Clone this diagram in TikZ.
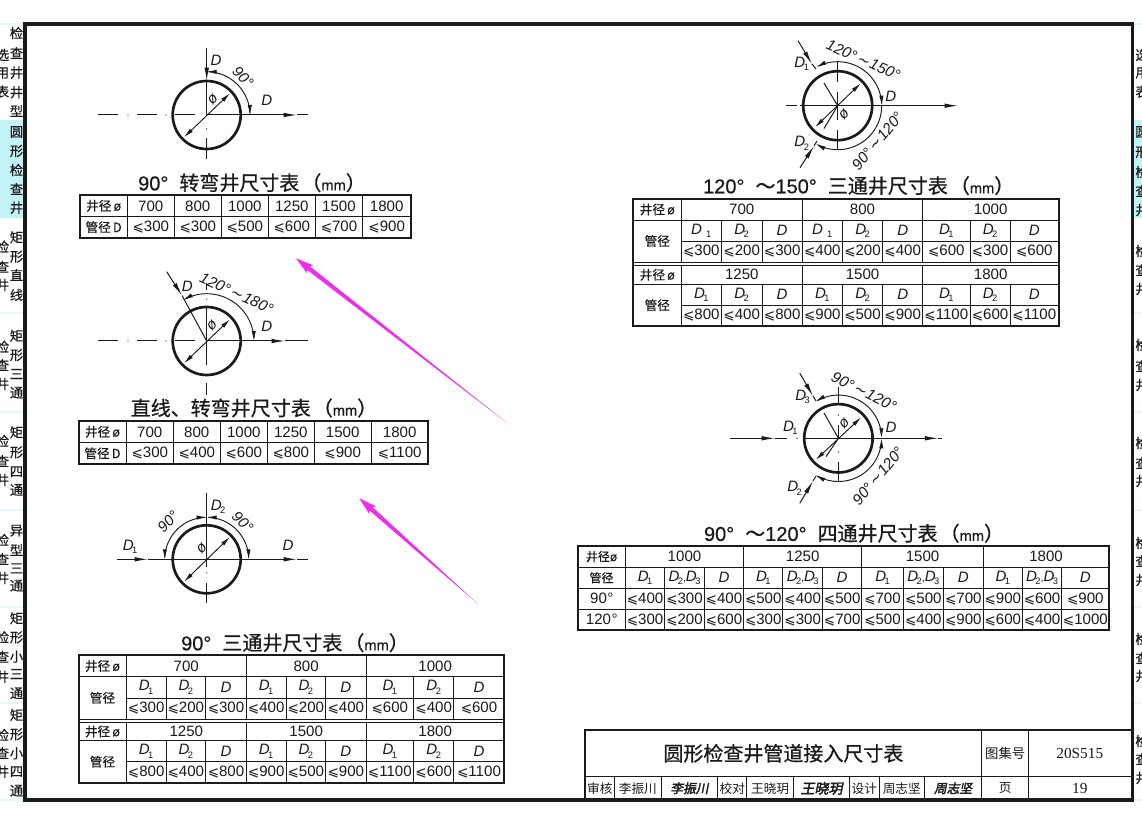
\documentclass[tikz,border=0pt]{standalone}
\usepackage{fontspec}
\setmainfont{Liberation Sans}
\newfontfamily\cjk[FakeBold=0.4]{Noto Sans CJK SC}
\newfontfamily\cjkl{Noto Sans CJK SC}
\newfontfamily\cjkt[FakeBold=0.7]{Noto Sans CJK SC}
\newfontfamily\titlelat[FakeBold=0.5]{Liberation Sans}
\newfontfamily\serf{Liberation Serif}
\newfontfamily\symf[Scale=0.9]{DejaVu Sans}
\newfontfamily\tildef[FakeSlant=0.15]{DejaVu Sans}
\newfontfamily\sigf[FakeSlant=0.2,FakeBold=2.5]{Noto Sans CJK SC}
\usetikzlibrary{arrows.meta,calc}
\definecolor{ink}{HTML}{1A1A1A}
\definecolor{tabhi}{HTML}{C2F3F7}
\definecolor{tabsep}{HTML}{E2F8FA}
\definecolor{pink}{HTML}{EE2CEE}
\newcommand{\LE}{{\symf ⩽}}
\newcommand{\dd}[1]{{\itshape D}\kern-1.2pt\raisebox{-2.5pt}{\fontsize{7}{8}\selectfont #1}}
\newcommand{\dD}{{\itshape D}}
\newcommand{\phisym}{{\itshape ø}}
\newcommand{\tld}{\kern1pt{\tildef ∼}\kern1pt}
\newcounter{nc}
\newcommand{\cell}[5]{\stepcounter{nc}\node[tx,name=c\arabic{nc}] at ({(#1+#2)/2},{(#3+#4)/2}) {#5};}
\newcommand{\srow}[4]{\foreach \b/\t [remember=\b as \a (initially #3)] in {#4}{\cell{\a}{\b}{#1}{#2}{\t}}}
\newcommand{\lab}[4][]{\stepcounter{nc}\node[tx,name=l\arabic{nc},#1] at (#2,#3) {#4};}
\newcommand{\darc}[6]{\draw[#6] plot[domain=#4:#5,samples=40,variable=\w] ({#1+#3*cos(\w)},{#2+#3*sin(\w)});}
\newcommand{\ttl}[3]{\stepcounter{nc}\node[title,name=t\arabic{nc}] at (#1,#2) {#3};}
\newcommand{\mmm}{{\cjkt （}{\fontsize{11}{12}\selectfont mm}{\cjkt ）}\kern-10.5pt}
\newcommand{\pinkarrow}[4]{%
 \fill[pink]
  (#1,#2) -- ($(#3,#4)!12pt!(#1,#2)!1.7pt!90:(#3,#4)$) -- ($(#3,#4)!13.5pt!(#1,#2)!3.8pt!90:(#3,#4)$) -- (#3,#4) -- ($(#3,#4)!13.5pt!(#1,#2)!3.8pt!-90:(#3,#4)$) -- ($(#3,#4)!12pt!(#1,#2)!1.7pt!-90:(#3,#4)$) -- cycle;}
\tikzset{
 tx/.style={inner sep=0pt,outer sep=0pt,text=ink,font=\fontsize{11.3}{13}\selectfont},
 title/.style={inner sep=0pt,text=ink,font=\titlelat\fontsize{15}{18}\selectfont},
 side/.style={tx,font=\cjk\fontsize{10}{12}\selectfont},
 frame/.style={line width=2.3pt,draw=ink},
 tout/.style={line width=1.4pt,draw=ink},
 tin/.style={line width=.65pt,draw=ink},
 well/.style={line width=2pt,draw=ink},
 thinl/.style={line width=.75pt,draw=ink},
 larr/.style={line width=.75pt,draw=ink,-{Latex[length=10pt,width=3.4pt]}},
 dim/.style={line width=.7pt,draw=ink},
 dimb/.style={dim,{Latex[length=7.5pt,width=3.2pt]}-{Latex[length=7.5pt,width=3.2pt]}},
 dime/.style={dim,-{Latex[length=7.5pt,width=3.2pt]}},
}
\begin{document}
\begin{tikzpicture}[x=0.75pt,y=-0.75pt]
\useasboundingbox (0,0) rectangle (1142,830);
\fill[white] (0,0) rectangle (1142,830);
% side tabs
\fill[tabhi] (0,120) rectangle (24,218);
\fill[tabhi] (1134,120) rectangle (1142,218);
\foreach \yy in {24,313,412,510,607,703,800}{\fill[tabsep] (0,\yy-1) rectangle (24,\yy+1);\fill[tabsep] (1134,\yy-1) rectangle (1142,\yy+1);}
\foreach \yy/\t in {33/检,53/查,72.7/井,92.3/井,111/型,132/圆,151/形,170/检,189/查,207.7/井,237.3/矩,256.7/形,275/直,295/线,335.7/矩,355/形,374/三,392.7/通,432.3/矩,452.3/形,471.7/四,490/通,530.7/异,550/型,568.3/三,585.7/通,618.3/矩,637.3/形,656.7/小,674/三,693.3/通,715/矩,734.3/形,753.3/小,771.7/四,790.7/通}{\stepcounter{nc}\node[side,name=sa\arabic{nc}] at (16.5,\yy) {\t};}
\foreach \yy/\t in {55/选,73/用,91.7/表,246.7/检,266.7/查,285/井,346.7/检,365/查,384/井,441/检,461/查,480/井,540/检,559/查,578/井,637.3/检,656.7/查,676.7/井,735/检,753/查,771.7/井}{\stepcounter{nc}\node[side,name=sb\arabic{nc}] at (2.5,\yy) {\t};}
\foreach \yy/\t in {55/选,73/用,91.7/表,132/圆,152/形,172/检,191/查,210/井,251/检,270/查,289/井,345/检,366/查,385/井,443/检,463/查,481/井,543/检,561/查,580/井,639/检,658/查,676/井,741/检,759/查,778/井}{\stepcounter{nc}\node[side,name=sc\arabic{nc}] at (1142,\yy) {\t};}
% frame
\draw[frame] (25,24) rectangle (1132.5,800);

% ---------- diagram 1
\coordinate (o1) at (206.7,115);
\draw[well] (o1) circle[radius=34];
\draw[thinl] (98.3,115) -- (118,115) (136.7,115) -- (156.7,115) (175,115) -- (195,115);
\fill[ink] (128,115) circle[radius=.7] (166,115) circle[radius=.7] (206.7,129) circle[radius=.7];
\draw[larr] (206.7,115) -- (297,115);
\draw[thinl] (297,115) -- (308.3,115);
\draw[larr] (206.7,48) -- (206.7,81);
\draw[thinl] (206.7,81) -- (206.7,115) (206.7,138.3) -- (206.7,159.3);
\darc{206.7}{115}{43.3}{-90}{0}{dimb}
\draw[dimb] (184,137.3) -- (230,93.3);
\lab[rotate=-45]{243}{77}{\itshape 90°}
\lab{216}{60}{\dD}
\lab{266.7}{100.7}{\dD}
\lab[rotate=45]{212.7}{99.3}{\phisym}
\ttl{245}{182.7}{90°\hspace{.55em}{\cjkt 转弯井尺寸表}\hspace{.1em}\mmm}
% table 1
\draw[tout] (80,195) rectangle (410.7,237.7);
\draw[tin] (80,216.7) -- (410.7,216.7);
\foreach \v in {127.3,174.3,221.3,268.3,315.3,362.7}{\draw[tin] (\v,195) -- (\v,237.7);}
\cell{80}{127.3}{195}{216.7}{\cjk\fontsize{9.5}{11}\selectfont 井径\,\phisym}
\cell{80}{127.3}{216.7}{237.7}{\cjk\fontsize{9.5}{11}\selectfont 管径\,\dD}
\srow{195}{216.7}{127.3}{174.3/700,221.3/800,268.3/1000,315.3/1250,362.7/1500,410.7/1800}
\srow{216.7}{237.7}{127.3}{174.3/\LE300,221.3/\LE300,268.3/\LE500,315.3/\LE600,362.7/\LE700,410.7/\LE900}

% ---------- diagram 2
\coordinate (o2) at (206.7,341);
\draw[well] (o2) circle[radius=34];
\draw[thinl] (98.3,341) -- (118,341) (136.7,341) -- (156.7,341) (175,341) -- (195,341);
\fill[ink] (128,341) circle[radius=.7] (166,341) circle[radius=.7] (206.7,299) circle[radius=.7];
\draw[larr] (206.7,341) -- (285,341);
\draw[thinl] (285,341) -- (308.3,341);
\draw[thinl] (206.7,283) -- (206.7,290) (206.7,307.7) -- (206.7,365) (206.7,383) -- (206.7,395);
\draw[larr] (166.7,271.7) -- (182,295.5);
\draw[thinl] (182,295.5) -- (o2);
\darc{206.7}{341}{47.3}{-120}{0}{dimb}
\draw[dimb] (184,363.3) -- (230,319.3);
\lab[rotate=-25]{236.7}{293.3}{\itshape\fontsize{11.5}{13}\selectfont 120°\tld180°}
\lab{187.3}{286.7}{\dD}
\lab{266.7}{326.7}{\dD}
\lab[rotate=45]{212}{325.7}{\phisym}
\ttl{247}{408}{{\cjkt 直线、转弯井尺寸表}\hspace{.1em}\mmm}
% table 2
\draw[tout] (78.7,421) rectangle (428.3,464);
\draw[tin] (78.7,442.7) -- (428.3,442.7);
\foreach \v in {126.3,173.3,220.3,267.3,314.3,371}{\draw[tin] (\v,421) -- (\v,464);}
\cell{78.7}{126.3}{421}{442.7}{\cjk\fontsize{9.5}{11}\selectfont 井径\,\phisym}
\cell{78.7}{126.3}{442.7}{464}{\cjk\fontsize{9.5}{11}\selectfont 管径\,\dD}
\srow{421}{442.7}{126.3}{173.3/700,220.3/800,267.3/1000,314.3/1250,371/1500,428.3/1800}
\srow{442.7}{464}{126.3}{173.3/\LE300,220.3/\LE400,267.3/\LE600,314.3/\LE800,371/\LE900,428.3/\LE1100}

% ---------- diagram 3
\coordinate (o3) at (206.7,559.3);
\draw[well] (o3) circle[radius=34];
\draw[larr] (116.7,559.3) -- (148,559.3);
\draw[thinl] (148,559.3) -- (206.7,559.3);
\draw[larr] (206.7,559.3) -- (297,559.3);
\draw[thinl] (297,559.3) -- (308.3,559.3);
\draw[thinl] (206.7,492.7) -- (206.7,567.3) (206.7,583) -- (206.7,603);
\fill[ink] (206.7,573) circle[radius=.7];
\darc{206.7}{559.3}{42}{-180}{-90}{dimb}
\darc{206.7}{559.3}{42}{-90}{0}{dimb}
\draw[dimb] (184,581.7) -- (230,537);
\lab[rotate=45]{168}{522}{\itshape 90°}
\lab[rotate=-45]{242.7}{521.7}{\itshape 90°}
\lab{130}{546.7}{\dd{1}}
\lab{288}{545}{\dD}
\lab{218}{507}{\dd{2}}
\lab[rotate=45]{201.7}{548}{\phisym}
\ttl{288}{642.7}{90°\hspace{.55em}{\cjkt 三通井尺寸表}\hspace{.1em}\mmm}
% table 3
\draw[tout] (78.7,655.3) rectangle (504.3,782.7);
\draw[tin] (78.7,676.7) -- (504.3,676.7) (126.3,698) -- (504.3,698) (78.7,719) -- (504.3,719) (78.7,722.3) -- (504.3,722.3) (78.7,740.7) -- (504.3,740.7) (126.3,761.7) -- (504.3,761.7);
\draw[tin] (126.3,655.3) -- (126.3,719) (126.3,722.3) -- (126.3,782.7);
\foreach \v in {246.3,366}{\draw[tin] (\v,655.3) -- (\v,719) (\v,722.3) -- (\v,782.7);}
\foreach \v in {166,205.7,286,325.7,413.7,453.7}{\draw[tin] (\v,676.7) -- (\v,719) (\v,740.7) -- (\v,782.7);}
\cell{78.7}{126.3}{655.3}{676.7}{\cjk\fontsize{9.5}{11}\selectfont 井径\,\phisym}
\cell{78.7}{126.3}{676.7}{719}{\cjk\fontsize{9.5}{11}\selectfont 管径}
\cell{78.7}{126.3}{722.3}{740.7}{\cjk\fontsize{9.5}{11}\selectfont 井径\,\phisym}
\cell{78.7}{126.3}{740.7}{782.7}{\cjk\fontsize{9.5}{11}\selectfont 管径}
\srow{655.3}{676.7}{126.3}{246.3/700,366/800,504.3/1000}
\srow{722.3}{740.7}{126.3}{246.3/1250,366/1500,504.3/1800}
\srow{676.7}{698}{126.3}{166/\dd{1},205.7/\dd{2},246.3/\dD,286/\dd{1},325.7/\dd{2},366/\dD,413.7/\dd{1},453.7/\dd{2},504.3/\dD}
\srow{740.7}{761.7}{126.3}{166/\dd{1},205.7/\dd{2},246.3/\dD,286/\dd{1},325.7/\dd{2},366/\dD,413.7/\dd{1},453.7/\dd{2},504.3/\dD}
\srow{698}{719}{126.3}{166/\LE300,205.7/\LE200,246.3/\LE300,286/\LE400,325.7/\LE200,366/\LE400,413.7/\LE600,453.7/\LE400,504.3/\LE600}
\srow{761.7}{782.7}{126.3}{166/\LE800,205.7/\LE400,246.3/\LE800,286/\LE900,325.7/\LE500,366/\LE900,413.7/\LE1100,453.7/\LE600,504.3/\LE1100}

% ---------- diagram 4
\coordinate (o4) at (837.7,105.7);
\draw[well] (o4) circle[radius=34.5];
\draw[thinl] (786,105.7) -- (796.7,105.7) (800,105.7) -- (837.7,105.7);
\draw[larr] (837.7,105.7) -- (958,105.7);
\draw[thinl] (837.7,62) -- (837.7,82) (837.7,92) -- (837.7,120) (837.7,130) -- (837.7,149);
\draw[larr] (798,40.7) -- (812,64);
\draw[thinl] (812,64) -- (816,69) (824,83) -- (o4);
\draw[larr] (800,167.7) -- (814,146);
\draw[thinl] (814,146) -- (817,141) (824,128.5) -- (o4);
\darc{837.7}{105.7}{44}{-119}{0}{dimb}
\darc{837.7}{105.7}{44}{0}{120}{dime}
\draw[dimb] (815,127.3) -- (860.7,83.3);
\lab[rotate=-24]{863.3}{60}{\itshape\fontsize{11.5}{13}\selectfont 120°\tld150°}
\lab[rotate=50]{877.5}{141}{\itshape\fontsize{11.5}{13}\selectfont 90°\tld120°}
\lab{801.7}{64}{\dd{1}}
\lab{801.7}{143.3}{\dd{2}}
\lab{890.7}{96}{\dD}
\lab[rotate=45]{844}{114}{\phisym}
\ttl{851.7}{185.7}{120°\hspace{.55em}{\cjkt ～}150°\hspace{.55em}{\cjkt 三通井尺寸表}\hspace{.1em}\mmm}
% table 4
\draw[tout] (633.3,199) rectangle (1058.7,326);
\draw[tin] (633.3,220) -- (1058.7,220) (681.3,241) -- (1058.7,241) (633.3,262) -- (1058.7,262) (633.3,265.3) -- (1058.7,265.3) (633.3,284.3) -- (1058.7,284.3) (681.3,305) -- (1058.7,305);
\draw[tin] (681.3,199) -- (681.3,262) (681.3,265.3) -- (681.3,326);
\foreach \v in {802.3,922.7}{\draw[tin] (\v,199) -- (\v,262) (\v,265.3) -- (\v,326);}
\foreach \v in {721.3,762,842.3,882.7,970,1010}{\draw[tin] (\v,220) -- (\v,262) (\v,284.3) -- (\v,326);}
\cell{633.3}{681.3}{199}{220}{\cjk\fontsize{9.5}{11}\selectfont 井径\,\phisym}
\cell{633.3}{681.3}{220}{262}{\cjk\fontsize{9.5}{11}\selectfont 管径}
\cell{633.3}{681.3}{265.3}{284.3}{\cjk\fontsize{9.5}{11}\selectfont 井径\,\phisym}
\cell{633.3}{681.3}{284.3}{326}{\cjk\fontsize{9.5}{11}\selectfont 管径}
\srow{199}{220}{681.3}{802.3/700,922.7/800,1058.7/1000}
\srow{265.3}{284.3}{681.3}{802.3/1250,922.7/1500,1058.7/1800}
\newcommand{\dlo}{\dD\ \raisebox{-2.5pt}{\fontsize{7}{8}\selectfont 1}}
\srow{220}{241}{681.3}{721.3/\dlo,762/\dd{2},802.3/\dD,842.3/\dlo,882.7/\dd{2},922.7/\dD,970/\dd{1},1010/\dd{2},1058.7/\dD}
\srow{284.3}{305}{681.3}{721.3/\dd{1},762/\dd{2},802.3/\dD,842.3/\dd{1},882.7/\dd{2},922.7/\dD,970/\dd{1},1010/\dd{2},1058.7/\dD}
\srow{241}{262}{681.3}{721.3/\LE300,762/\LE200,802.3/\LE300,842.3/\LE400,882.7/\LE200,922.7/\LE400,970/\LE600,1010/\LE300,1058.7/\LE600}
\srow{305}{326}{681.3}{721.3/\LE800,762/\LE400,802.3/\LE800,842.3/\LE900,882.7/\LE500,922.7/\LE900,970/\LE1100,1010/\LE600,1058.7/\LE1100}

% ---------- diagram 5
\coordinate (o5) at (838.4,438.3);
\draw[well] (o5) circle[radius=34.2];
\draw[larr] (729.6,438.3) -- (775,438.3);
\draw[thinl] (775,438.3) -- (787,438.3) (804,438.3) -- (o5);
\draw[larr] (o5) -- (938.3,438.3);
\draw[thinl] (938.3,438.3) -- (941.8,438.3);
\fill[ink] (797,438.3) circle[radius=.7] (838.4,415) circle[radius=.7] (838.4,452) circle[radius=.7];
\draw[thinl] (838.4,386.7) -- (838.4,404) (838.4,425) -- (o5) (838.4,461.7) -- (838.4,481.7);
\draw[larr] (799.8,373.3) -- (813,396);
\draw[thinl] (813,396) -- (816,401) (824,413) -- (o5);
\draw[larr] (799.8,503.3) -- (813,481);
\draw[thinl] (813,481) -- (816,476) (826,456.7) -- (o5);
\darc{838.4}{438.3}{43.2}{-122}{0}{dimb}
\darc{838.4}{438.3}{43.2}{0}{122}{dimb}
\draw[dimb] (815.6,460) -- (861.2,417.3);
\lab[rotate=-27]{864}{391.7}{\itshape\fontsize{11.5}{13}\selectfont 90°\tld120°}
\lab[rotate=50]{878}{476}{\itshape\fontsize{11.5}{13}\selectfont 90°\tld120°}
\lab{802.6}{396.7}{\dd{3}}
\lab{790.3}{427.7}{\dd{1}}
\lab{891}{427.7}{\dD}
\lab{794.5}{488.3}{\dd{2}}
\lab[rotate=45]{844.3}{423.3}{\phisym}
\ttl{847}{533.3}{90°\hspace{.55em}{\cjkt ～}120°\hspace{.55em}{\cjkt 四通井尺寸表}\hspace{.1em}\mmm}
% table 5
\draw[tout] (577.7,546) rectangle (1109,630);
\draw[tin] (577.7,567.3) -- (1109,567.3) (577.7,588.3) -- (1109,588.3) (577.7,609.3) -- (1109,609.3);
\draw[tin] (625.4,546) -- (625.4,630);
\foreach \v in {743.6,861.8,983.2}{\draw[tin] (\v,546) -- (\v,630);}
\foreach \v in {664.7,704.3,782.9,822.5,903.2,943.5,1022.5,1061.7}{\draw[tin] (\v,567.3) -- (\v,630);}
\cell{577.7}{625.4}{546}{567.3}{\cjk\fontsize{9}{11}\selectfont 井径\phisym}
\cell{577.7}{625.4}{567.3}{588.3}{\cjk\fontsize{9}{11}\selectfont 管径}
\cell{577.7}{625.4}{588.3}{609.3}{90{\itshape °}}
\cell{577.7}{625.4}{609.3}{630}{120{\itshape °}}
\srow{546}{567.3}{625.4}{743.6/1000,861.8/1250,983.2/1500,1109/1800}
\newcommand{\ddd}{\dd{2}{\fontsize{8}{9}\selectfont ,}\dd{3}}
\srow{567.3}{588.3}{625.4}{664.7/\dd{1},704.3/\ddd,743.6/\dD,782.9/\dd{1},822.5/\ddd,861.8/\dD,903.2/\dd{1},943.5/\ddd,983.2/\dD,1022.5/\dd{1},1061.7/\ddd,1109/\dD}
\srow{588.3}{609.3}{625.4}{664.7/\LE400,704.3/\LE300,743.6/\LE400,782.9/\LE500,822.5/\LE400,861.8/\LE500,903.2/\LE700,943.5/\LE500,983.2/\LE700,1022.5/\LE900,1061.7/\LE600,1109/\LE900}
\srow{609.3}{630}{625.4}{664.7/\LE300,704.3/\LE200,743.6/\LE600,782.9/\LE300,822.5/\LE300,861.8/\LE700,903.2/\LE500,943.5/\LE400,983.2/\LE900,1022.5/\LE600,1061.7/\LE400,1109/\LE1000}

% ---------- title block
\draw[line width=1.6pt,draw=ink] (585.3,800) -- (585.3,730) -- (1132.5,730);
\draw[tin] (585.3,776.7) -- (1132.5,776.7) (981.5,730) -- (981.5,800) (1028.9,730) -- (1028.9,800);
\foreach \v in {614.5,661.2,717.7,746.9,793.3,849.8,879,924.6}{\draw[tin] (\v,776.7) -- (\v,800);}
\cell{585.3}{981.5}{730}{776.7}{\cjkt\fontsize{15}{18}\selectfont 圆形检查井管道接入尺寸表}
\cell{981.5}{1028.9}{730}{776.7}{\cjkl\fontsize{10}{12}\selectfont 图集号}
\cell{1028.9}{1130.7}{730}{776.7}{\serf\fontsize{11.5}{13}\selectfont 20S515}
\cell{585.3}{614.5}{776.7}{800}{\cjkl\fontsize{9.5}{11}\selectfont 审核}
\cell{614.5}{661.2}{776.7}{800}{\cjkl\fontsize{9.5}{11}\selectfont 李振川}
\cell{661.2}{717.7}{776.7}{800}{\sigf\fontsize{9.5}{11}\selectfont 李振川}
\cell{717.7}{746.9}{776.7}{800}{\cjkl\fontsize{9.5}{11}\selectfont 校对}
\cell{746.9}{793.3}{776.7}{800}{\cjkl\fontsize{9.5}{11}\selectfont 王晓玥}
\cell{793.3}{849.8}{776.7}{800}{\sigf\fontsize{10.5}{12}\selectfont 王晓玥}
\cell{849.8}{879}{776.7}{800}{\cjkl\fontsize{9.5}{11}\selectfont 设计}
\cell{879}{924.6}{776.7}{800}{\cjkl\fontsize{9.5}{11}\selectfont 周志坚}
\cell{924.6}{981.5}{776.7}{800}{\sigf\fontsize{9.5}{11}\selectfont 周志坚}
\cell{981.5}{1028.9}{776.7}{800}{\cjkl\fontsize{9.5}{11}\selectfont 页}
\cell{1028.9}{1130.7}{776.7}{800}{\serf\fontsize{11.5}{13}\selectfont 19}

% ---------- pink arrows
\pinkarrow{506.7}{422.7}{296}{258.3}
\pinkarrow{478.3}{604.3}{359.3}{498.3}
\end{tikzpicture}
\end{document}
